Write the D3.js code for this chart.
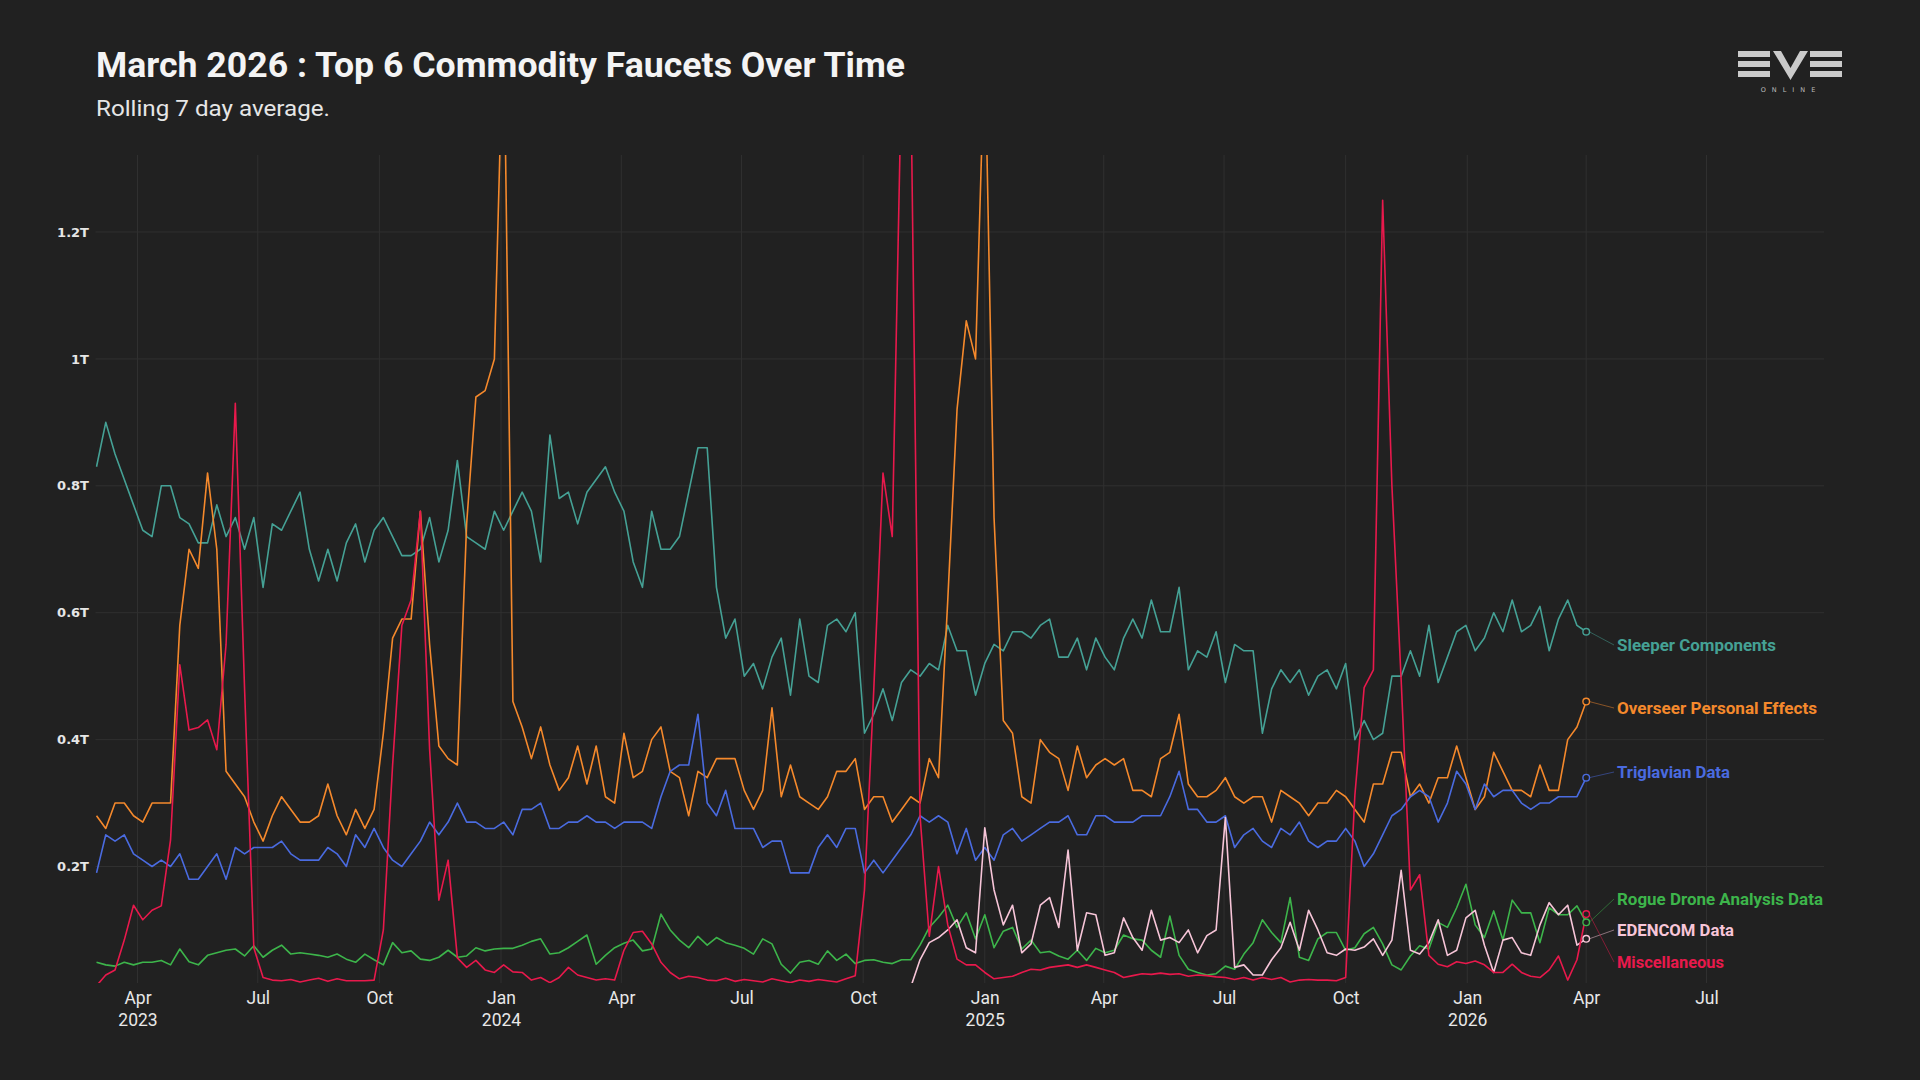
<!DOCTYPE html>
<html>
<head>
<meta charset="utf-8">
<script src="https://cdn.jsdelivr.net/npm/d3@7"></script>
<style>
  body { margin: 0; background: #212121; }
  svg { display: block; }
</style>
</head>
<body>
<div id="chart-area"></div>
<script>
// weekly samples of the rolling 7 day average, in trillions of ISK
const startDate = new Date(Date.UTC(2023, 2, 1));
const stepDays = 7;

const sleeper = [
  0.83, 0.90, 0.85, 0.81, 0.77, 0.73, 0.72, 0.80, 0.80, 0.75,
  0.74, 0.71, 0.71, 0.77, 0.72, 0.75, 0.70, 0.75, 0.64, 0.74,
  0.73, 0.76, 0.79, 0.70, 0.65, 0.70, 0.65, 0.71, 0.74, 0.68,
  0.73, 0.75, 0.72, 0.69, 0.69, 0.70, 0.75, 0.68, 0.73, 0.84,
  0.72, 0.71, 0.70, 0.76, 0.73, 0.76, 0.79, 0.76, 0.68, 0.88,
  0.78, 0.79, 0.74, 0.79, 0.81, 0.83, 0.79, 0.76, 0.68, 0.64,
  0.76, 0.70, 0.70, 0.72, 0.79, 0.86, 0.86, 0.64, 0.56, 0.59,
  0.50, 0.52, 0.48, 0.53, 0.56, 0.47, 0.59, 0.50, 0.49, 0.58,
  0.59, 0.57, 0.60, 0.41, 0.44, 0.48, 0.43, 0.49, 0.51, 0.50,
  0.52, 0.51, 0.58, 0.54, 0.54, 0.47, 0.52, 0.55, 0.54, 0.57,
  0.57, 0.56, 0.58, 0.59, 0.53, 0.53, 0.56, 0.51, 0.56, 0.53,
  0.51, 0.56, 0.59, 0.56, 0.62, 0.57, 0.57, 0.64, 0.51, 0.54,
  0.53, 0.57, 0.49, 0.55, 0.54, 0.54, 0.41, 0.48, 0.51, 0.49,
  0.51, 0.47, 0.50, 0.51, 0.48, 0.52, 0.40, 0.43, 0.40, 0.41,
  0.50, 0.50, 0.54, 0.50, 0.58, 0.49, 0.53, 0.57, 0.58, 0.54,
  0.56, 0.60, 0.57, 0.62, 0.57, 0.58, 0.61, 0.54, 0.59, 0.62,
  0.58, 0.57
];

const overseer = [
  0.28, 0.26, 0.30, 0.30, 0.28, 0.27, 0.30, 0.30, 0.30, 0.58,
  0.70, 0.67, 0.82, 0.70, 0.35, 0.33, 0.31, 0.27, 0.24, 0.28,
  0.31, 0.29, 0.27, 0.27, 0.28, 0.33, 0.28, 0.25, 0.29, 0.26,
  0.29, 0.41, 0.56, 0.59, 0.59, 0.76, 0.55, 0.39, 0.37, 0.36,
  0.74, 0.94, 0.95, 1.00, 1.55, 0.46, 0.42, 0.37, 0.42, 0.36,
  0.32, 0.34, 0.39, 0.33, 0.39, 0.31, 0.30, 0.41, 0.34, 0.35,
  0.40, 0.42, 0.35, 0.34, 0.28, 0.35, 0.34, 0.37, 0.37, 0.37,
  0.32, 0.29, 0.32, 0.45, 0.31, 0.36, 0.31, 0.30, 0.29, 0.31,
  0.35, 0.35, 0.37, 0.29, 0.31, 0.31, 0.27, 0.29, 0.31, 0.30,
  0.37, 0.34, 0.62, 0.92, 1.06, 1.00, 1.50, 0.75, 0.43, 0.41,
  0.31, 0.30, 0.40, 0.38, 0.37, 0.32, 0.39, 0.34, 0.36, 0.37,
  0.36, 0.37, 0.32, 0.32, 0.31, 0.37, 0.38, 0.44, 0.33, 0.31,
  0.31, 0.32, 0.34, 0.31, 0.30, 0.31, 0.31, 0.27, 0.32, 0.31,
  0.30, 0.28, 0.30, 0.30, 0.32, 0.31, 0.29, 0.27, 0.33, 0.33,
  0.38, 0.38, 0.31, 0.33, 0.30, 0.34, 0.34, 0.39, 0.34, 0.29,
  0.31, 0.38, 0.35, 0.32, 0.32, 0.31, 0.36, 0.32, 0.32, 0.40,
  0.42, 0.46
];

const triglavian = [
  0.19, 0.25, 0.24, 0.25, 0.22, 0.21, 0.20, 0.21, 0.20, 0.22,
  0.18, 0.18, 0.20, 0.22, 0.18, 0.23, 0.22, 0.23, 0.23, 0.23,
  0.24, 0.22, 0.21, 0.21, 0.21, 0.23, 0.22, 0.20, 0.25, 0.23,
  0.26, 0.23, 0.21, 0.20, 0.22, 0.24, 0.27, 0.25, 0.27, 0.30,
  0.27, 0.27, 0.26, 0.26, 0.27, 0.25, 0.29, 0.29, 0.30, 0.26,
  0.26, 0.27, 0.27, 0.28, 0.27, 0.27, 0.26, 0.27, 0.27, 0.27,
  0.26, 0.31, 0.35, 0.36, 0.36, 0.44, 0.30, 0.28, 0.32, 0.26,
  0.26, 0.26, 0.23, 0.24, 0.24, 0.19, 0.19, 0.19, 0.23, 0.25,
  0.23, 0.26, 0.26, 0.19, 0.21, 0.19, 0.21, 0.23, 0.25, 0.28,
  0.27, 0.28, 0.27, 0.22, 0.26, 0.21, 0.23, 0.21, 0.25, 0.26,
  0.24, 0.25, 0.26, 0.27, 0.27, 0.28, 0.25, 0.25, 0.28, 0.28,
  0.27, 0.27, 0.27, 0.28, 0.28, 0.28, 0.31, 0.35, 0.29, 0.29,
  0.27, 0.27, 0.28, 0.23, 0.25, 0.26, 0.24, 0.23, 0.26, 0.25,
  0.27, 0.24, 0.23, 0.24, 0.24, 0.26, 0.24, 0.20, 0.22, 0.25,
  0.28, 0.29, 0.31, 0.32, 0.31, 0.27, 0.30, 0.35, 0.33, 0.29,
  0.33, 0.31, 0.32, 0.32, 0.30, 0.29, 0.30, 0.30, 0.31, 0.31,
  0.31, 0.34
];

const rogueDrone = [
  0.049, 0.045, 0.043, 0.049, 0.045, 0.049, 0.049, 0.052, 0.045, 0.070,
  0.050, 0.045, 0.060, 0.064, 0.068, 0.070, 0.059, 0.075, 0.057, 0.068,
  0.076, 0.062, 0.064, 0.062, 0.060, 0.057, 0.062, 0.054, 0.049, 0.062,
  0.053, 0.045, 0.080, 0.064, 0.067, 0.054, 0.052, 0.057, 0.068, 0.057,
  0.059, 0.072, 0.067, 0.070, 0.071, 0.071, 0.076, 0.082, 0.086, 0.062,
  0.064, 0.072, 0.082, 0.092, 0.046, 0.060, 0.072, 0.079, 0.084, 0.067,
  0.070, 0.125, 0.100, 0.084, 0.072, 0.090, 0.076, 0.088, 0.080, 0.076,
  0.071, 0.062, 0.086, 0.078, 0.046, 0.032, 0.049, 0.052, 0.046, 0.067,
  0.052, 0.062, 0.047, 0.052, 0.053, 0.049, 0.047, 0.053, 0.053, 0.076,
  0.104, 0.120, 0.139, 0.104, 0.127, 0.086, 0.124, 0.072, 0.098, 0.104,
  0.070, 0.084, 0.064, 0.066, 0.059, 0.054, 0.068, 0.052, 0.071, 0.064,
  0.068, 0.092, 0.086, 0.084, 0.068, 0.057, 0.122, 0.060, 0.038, 0.033,
  0.029, 0.031, 0.043, 0.038, 0.062, 0.080, 0.116, 0.096, 0.080, 0.151,
  0.057, 0.052, 0.086, 0.096, 0.096, 0.068, 0.072, 0.094, 0.104, 0.078,
  0.045, 0.037, 0.059, 0.075, 0.070, 0.112, 0.104, 0.135, 0.172, 0.108,
  0.088, 0.130, 0.084, 0.147, 0.127, 0.127, 0.080, 0.135, 0.124, 0.124,
  0.138, 0.112
];

// EDENCOM Data only appears from November 2024
const edencom = Array(88).fill(null).concat([
  0.010, 0.053, 0.080, 0.088, 0.100, 0.116, 0.072, 0.064, 0.261, 0.163,
  0.108, 0.139, 0.064, 0.078, 0.139, 0.151, 0.104, 0.226, 0.068, 0.127,
  0.124, 0.060, 0.064, 0.119, 0.088, 0.068, 0.131, 0.084, 0.088, 0.080,
  0.100, 0.064, 0.091, 0.100, 0.277, 0.041, 0.045, 0.029, 0.029, 0.053,
  0.072, 0.112, 0.068, 0.131, 0.100, 0.064, 0.060, 0.070, 0.068, 0.073,
  0.086, 0.060, 0.084, 0.194, 0.068, 0.062, 0.080, 0.116, 0.060, 0.068,
  0.119, 0.131, 0.076, 0.033, 0.084, 0.088, 0.064, 0.060, 0.108, 0.143,
  0.124, 0.139, 0.076, 0.086
]);

const misc = [
  0.012, 0.029, 0.037, 0.084, 0.139, 0.116, 0.131, 0.138, 0.242, 0.518,
  0.415, 0.419, 0.431, 0.384, 0.550, 0.930, 0.480, 0.072, 0.025, 0.021,
  0.020, 0.022, 0.018, 0.021, 0.024, 0.019, 0.023, 0.020, 0.020, 0.020,
  0.021, 0.100, 0.360, 0.580, 0.620, 0.760, 0.384, 0.147, 0.210, 0.056,
  0.041, 0.052, 0.037, 0.033, 0.045, 0.034, 0.033, 0.021, 0.025, 0.017,
  0.025, 0.041, 0.029, 0.025, 0.021, 0.023, 0.021, 0.068, 0.096, 0.098,
  0.078, 0.049, 0.033, 0.023, 0.027, 0.025, 0.021, 0.020, 0.024, 0.019,
  0.022, 0.020, 0.018, 0.023, 0.020, 0.017, 0.021, 0.019, 0.022, 0.020,
  0.018, 0.023, 0.028, 0.163, 0.478, 0.820, 0.720, 1.450, 1.450, 0.280,
  0.090, 0.200, 0.108, 0.054, 0.045, 0.045, 0.033, 0.023, 0.025, 0.027,
  0.033, 0.038, 0.037, 0.041, 0.043, 0.045, 0.041, 0.045, 0.041, 0.037,
  0.033, 0.025, 0.028, 0.031, 0.030, 0.032, 0.030, 0.031, 0.027, 0.029,
  0.028, 0.026, 0.025, 0.022, 0.025, 0.021, 0.025, 0.022, 0.025, 0.018,
  0.021, 0.022, 0.021, 0.021, 0.020, 0.025, 0.313, 0.482, 0.510, 1.250,
  0.800, 0.494, 0.163, 0.187, 0.060, 0.046, 0.042, 0.050, 0.047, 0.051,
  0.045, 0.033, 0.033, 0.046, 0.033, 0.027, 0.025, 0.037, 0.059, 0.021,
  0.053, 0.125
];

const yTicks = [0.2, 0.4, 0.6, 0.8, 1, 1.2];

const series = [
  { name: "Sleeper Components", values: sleeper, color: "#45a195", labelY: 645, labelW: 159 },
  { name: "Overseer Personal Effects", values: overseer, color: "#f5892c", labelY: 708, labelW: 200 },
  { name: "Triglavian Data", values: triglavian, color: "#4a6be0", labelY: 772, labelW: 113 },
  { name: "Rogue Drone Analysis Data", values: rogueDrone, color: "#3db54b", labelY: 899, labelW: 206 },
  { name: "EDENCOM Data", values: edencom, color: "#f7c5d8", labelY: 930, labelW: 117 },
  { name: "Miscellaneous", values: misc, color: "#e8194c", labelY: 962, labelW: 107 }
];

const dates = d3.range(sleeper.length).map(i => d3.utcDay.offset(startDate, i * stepDays));

const width = 1920;
const height = 1080;
const plot = { left: 95.5, top: 155, right: 1824, bottom: 983 };
const plotW = plot.right - plot.left;
const plotH = plot.bottom - plot.top;

const svg = d3.select("#chart-area")
  .append("svg")
    .attr("width", width)
    .attr("height", height);

svg.append("rect")
  .attr("width", width)
  .attr("height", height)
  .attr("fill", "#212121");

// Apr 2023 and Jul 2026 ticks pin the time scale; it extends linearly past them
const x = d3.scaleUtc()
  .domain([new Date(Date.UTC(2023, 3, 1)), new Date(Date.UTC(2026, 6, 1))])
  .range([42, 1611]);

const y = d3.scaleLinear()
  .domain([0.0164, 1.3214])
  .range([plotH, 0]);

const g = svg.append("g")
  .attr("transform", `translate(${plot.left}, ${plot.top})`);

// grid
const quarterTicks = d3.utcMonth.every(3).range(new Date(Date.UTC(2023, 3, 1)), new Date(Date.UTC(2026, 7, 1)));

g.append("g")
  .attr("class", "x-grid")
  .selectAll("line")
  .data(quarterTicks)
  .enter()
  .append("line")
    .attr("x1", d => x(d))
    .attr("x2", d => x(d))
    .attr("y1", 0)
    .attr("y2", plotH)
    .attr("stroke", "#303030")
    .attr("stroke-width", 1);

g.append("g")
  .attr("class", "y-grid")
  .selectAll("line")
  .data(yTicks)
  .enter()
  .append("line")
    .attr("x1", 0)
    .attr("x2", plotW)
    .attr("y1", d => y(d))
    .attr("y2", d => y(d))
    .attr("stroke", "#303030")
    .attr("stroke-width", 1);

// axes
const yAxisCall = d3.axisLeft(y)
  .tickValues(yTicks)
  .tickSize(0)
  .tickPadding(6.5)
  .tickFormat(d => d + "T");

const yAxis = g.append("g")
  .attr("class", "y-axis")
  .call(yAxisCall);
yAxis.select(".domain").remove();
yAxis.selectAll("text")
  .attr("fill", "#e6e6e6")
  .attr("font-family", "'DejaVu Sans', sans-serif")
  .attr("font-weight", 700)
  .attr("font-size", "13px");

const monthFmt = d3.utcFormat("%b");
const xAxisCall = d3.axisBottom(x)
  .tickValues(quarterTicks)
  .tickSize(0)
  .tickPadding(0)
  .tickFormat(() => "");

const xAxis = g.append("g")
  .attr("class", "x-axis")
  .attr("transform", `translate(0, ${plotH})`)
  .call(xAxisCall);
xAxis.select(".domain").remove();

xAxis.selectAll(".tick").each(function(d, i) {
  const t = d3.select(this);
  t.append("text")
    .attr("y", 21)
    .attr("text-anchor", "middle")
    .attr("fill", "#e8e8e8")
    .attr("font-family", "Roboto, sans-serif")
    .attr("font-size", "17.5px")
    .text(monthFmt(d));
  if (i === 0 || d.getUTCMonth() === 0) {
    t.append("text")
      .attr("y", 43)
      .attr("text-anchor", "middle")
      .attr("fill", "#e8e8e8")
      .attr("font-family", "Roboto, sans-serif")
      .attr("font-size", "17.5px")
      .text(d.getUTCFullYear());
  }
});

// lines
g.append("clipPath")
  .attr("id", "plot-clip")
  .append("rect")
    .attr("x", 0)
    .attr("y", 0)
    .attr("width", plotW)
    .attr("height", plotH);

const line = d3.line()
  .defined(d => d.v !== null)
  .x(d => x(d.date))
  .y(d => y(d.v));

const lines = g.append("g").attr("clip-path", "url(#plot-clip)");

series.forEach(s => {
  const pts = s.values.map((v, i) => ({ date: dates[i], v: v }));
  lines.append("path")
    .datum(pts)
    .attr("fill", "none")
    .attr("stroke", s.color)
    .attr("stroke-width", 1.6)
    .attr("stroke-linejoin", "round")
    .attr("d", line);
});

// end markers and labels
const labelX = 1617 - plot.left;
series.forEach(s => {
  const last = s.values.length - 1;
  const cx = x(dates[last]);
  const cy = y(s.values[last]);
  const ly = s.labelY - plot.top;

  g.append("line")
    .attr("x1", cx + 3)
    .attr("y1", cy)
    .attr("x2", labelX - 3)
    .attr("y2", ly)
    .attr("stroke", s.color)
    .attr("stroke-opacity", 0.55)
    .attr("stroke-width", 0.9);

  g.append("circle")
    .attr("cx", cx)
    .attr("cy", cy)
    .attr("r", 3.3)
    .attr("fill", "#212121")
    .attr("stroke", s.color)
    .attr("stroke-width", 1.4);

  g.append("text")
    .attr("x", labelX)
    .attr("y", ly)
    .attr("dy", "0.35em")
    .attr("fill", s.color)
    .attr("font-family", "Roboto, sans-serif")
    .attr("font-weight", 700)
    .attr("font-size", "16.5px")
    .attr("textLength", s.labelW)
    .attr("lengthAdjust", "spacingAndGlyphs")
    .text(s.name);
});

// title
svg.append("text")
  .attr("x", 96)
  .attr("y", 77)
  .attr("fill", "#f4f4f4")
  .attr("font-family", "Roboto, sans-serif")
  .attr("font-weight", 700)
  .attr("font-size", "35px")
  .attr("textLength", 809)
  .attr("lengthAdjust", "spacingAndGlyphs")
  .text("March 2026 : Top 6 Commodity Faucets Over Time");

svg.append("text")
  .attr("x", 96)
  .attr("y", 116)
  .attr("fill", "#e6e6e6")
  .attr("font-family", "Roboto, sans-serif")
  .attr("font-size", "22px")
  .attr("textLength", 234)
  .attr("lengthAdjust", "spacingAndGlyphs")
  .text("Rolling 7 day average.");

// EVE logo
const logo = svg.append("g")
  .attr("transform", "translate(1738, 51)")
  .attr("fill", "#cacaca");

[0, 72].forEach(ox => {
  [0, 10, 20].forEach(oy => {
    logo.append("rect")
      .attr("x", ox)
      .attr("y", oy)
      .attr("width", 32)
      .attr("height", 6);
  });
});

logo.append("path")
  .attr("fill-rule", "evenodd")
  .attr("d", "M35,0 L70,0 L52.5,29 Z M43,0 L52.5,17 L62,0 Z");

svg.append("text")
  .attr("x", 1791)
  .attr("y", 92)
  .attr("text-anchor", "middle")
  .attr("fill", "#bdbdbd")
  .attr("font-family", "'DejaVu Sans', sans-serif")
  .attr("font-size", "6.5px")
  .attr("letter-spacing", "6px")
  .text("ONLINE");
</script>
</body>
</html>
